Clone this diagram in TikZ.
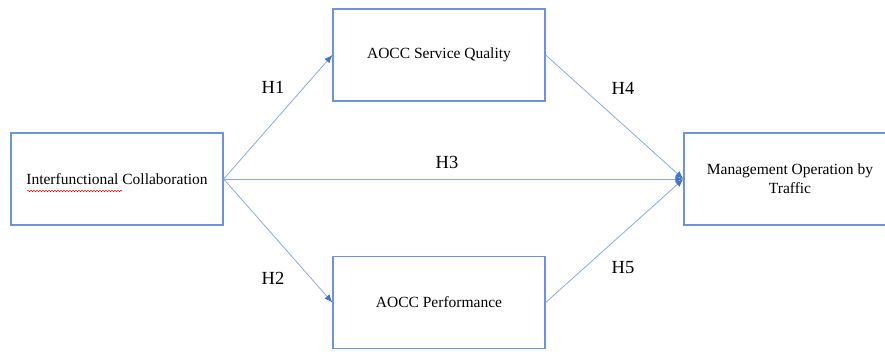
\documentclass[tikz,border=0pt]{standalone}
\usepackage{fontspec}
\setmainfont{Liberation Serif}
\usetikzlibrary{arrows.meta,decorations.pathmorphing}
\definecolor{boxblue}{HTML}{6E93D6}
\definecolor{lineblue}{HTML}{8CAAE0}
\definecolor{tipblue}{HTML}{4472C4}
\tikzset{
    varbox/.style={draw=boxblue,line width=1.3pt,fill=white,minimum width=212pt,minimum height=92pt,inner sep=0pt,font=\fontsize{15.5}{19}\selectfont},
    hyparrow/.style={draw=lineblue,line width=0.8pt,-{Latex[length=8pt,width=6.5pt,fill=tipblue,color=tipblue]}},
    hyplabel/.style={font=\fontsize{18.5}{20}\selectfont}
}
\begin{document}
\begin{tikzpicture}[x=1pt,y=-1pt]
        \clip (0,0) rectangle (885,351);
        \fill[white] (0,0) rectangle (885,351);

        \node[varbox] (collab) at (117,179) {Interfunctional Collaboration};
        \node[varbox] (quality) at (439,55) {AOCC Service Quality};
        \node[varbox] (perform) at (439,302.5) {AOCC Performance};
        \node[varbox,align=center] (traffic) at (790,179) {Management Operation by\\Traffic};

        %spell check mark
        \draw[red!85!black,line width=0.5pt,decorate,decoration={snake,amplitude=0.7pt,segment length=3pt}] (27,191) -- (122,191);

        \draw[hyparrow] (collab.east) -- (quality.west);
        \draw[hyparrow] (collab.east) -- (perform.west);
        \draw[hyparrow] (collab.east) -- (traffic.west);
        \draw[hyparrow] (quality.east) -- (traffic.west);
        \draw[hyparrow] (perform.east) -- (traffic.west);

        \node[hyplabel] (h1) at (273,87) {H1};
        \node[hyplabel] (h2) at (273,278) {H2};
        \node[hyplabel] (h3) at (447,162) {H3};
        \node[hyplabel] (h4) at (623,88) {H4};
        \node[hyplabel] (h5) at (623,268) {H5};
    \end{tikzpicture}
\end{document}
